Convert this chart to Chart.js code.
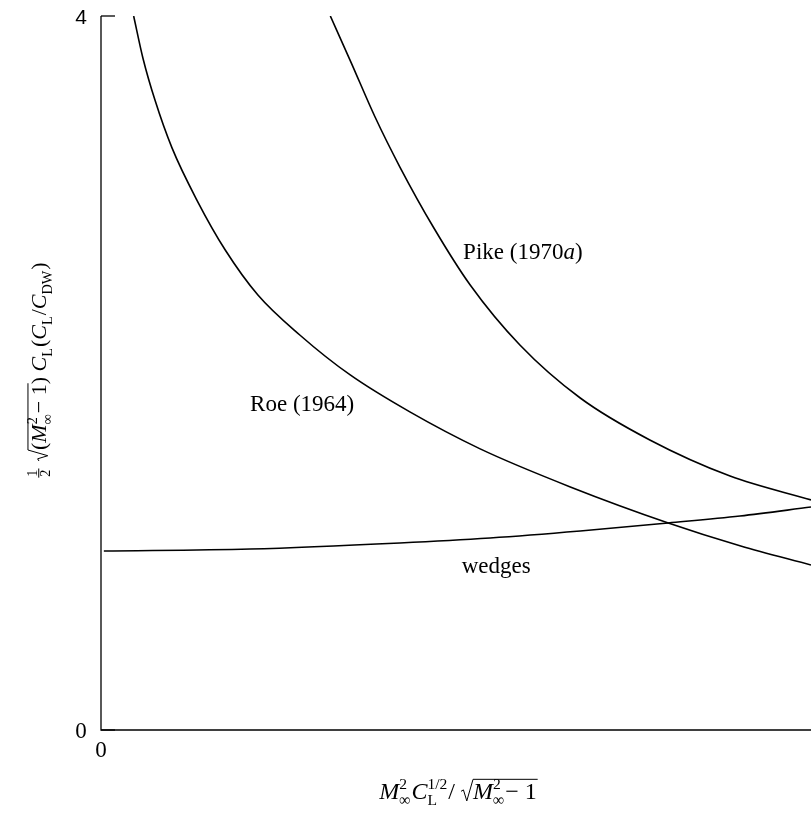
<!DOCTYPE html>
<html lang="en">
<head>
<meta charset="UTF-8">
<title>Wedges, Roe and Pike</title>
<script src="https://cdn.jsdelivr.net/npm/chart.js"></script>
<style>
  html, body { margin: 0; padding: 0; background: #fff; overflow: hidden; }
  #wrap { width: 811px; height: 813px; position: relative; }
</style>
</head>
<body>
<div id="wrap"><canvas id="myChart"></canvas></div>
<script>
// values
const roeX = [0.046, 0.059, 0.076, 0.100, 0.135, 0.175, 0.221, 0.280, 0.351, 0.435, 0.534, 0.661, 0.799, 0.901, 1.000];
const roeY = [4.000, 3.765, 3.529, 3.261, 2.969, 2.689, 2.437, 2.213, 1.989, 1.782, 1.575, 1.362, 1.160, 1.031, 0.924];

const pikeX = [0.323, 0.352, 0.386, 0.421, 0.468, 0.520, 0.590, 0.675, 0.773, 0.886, 1.000];
const pikeY = [4.000, 3.742, 3.434, 3.154, 2.818, 2.493, 2.157, 1.860, 1.625, 1.423, 1.289];

const wedgeX = [0.004, 0.210, 0.421, 0.548, 0.675, 0.799, 0.900, 1.000];
const wedgeY = [1.003, 1.014, 1.048, 1.076, 1.115, 1.160, 1.199, 1.249];

const xTicks = [0, 1];
const yTicks = [0, 4];

// curve labels, placed in data coordinates
const curveLabels = [
    { text: [{ t: 'Pike (1970' }, { t: 'a', i: true }, { t: ')' }], x: 0.510, y: 2.64 },
    { text: [{ t: 'Roe (1964)' }], x: 0.210, y: 1.787 },
    { text: [{ t: 'wedges' }], x: 0.508, y: 0.880 }
];

const SERIF = '"Liberation Serif", "DejaVu Serif", serif';

function toPts(xs, ys) {
    return xs.map((x, i) => ({ x: x, y: ys[i] }));
}

// draws (or just measures) a row of text pieces with sub/superscripts, fractions and a root
function richText(ctx, parts, size, x0, y0, draw) {
    let x = x0;
    let rootX = null;
    const small = size * 0.65;
    const fnt = (s, it) => (it ? 'italic ' : '') + s + 'px ' + SERIF;
    for (const p of parts) {
        if (p.frac) {
            ctx.font = fnt(small);
            const w = Math.max(ctx.measureText(p.frac[0]).width, ctx.measureText(p.frac[1]).width) + 2;
            if (draw) {
                ctx.textAlign = 'center';
                ctx.fillText(p.frac[0], x + w / 2, y0 - size * 0.42);
                ctx.fillText(p.frac[1], x + w / 2, y0 + size * 0.18);
                ctx.textAlign = 'left';
                ctx.beginPath();
                ctx.moveTo(x, y0 - size * 0.33);
                ctx.lineTo(x + w, y0 - size * 0.33);
                ctx.lineWidth = 1;
                ctx.stroke();
            }
            x += w + 2;
        } else if (p.root) {
            const w = size * 0.5;
            if (draw) {
                ctx.beginPath();
                ctx.moveTo(x, y0 - size * 0.32);
                ctx.lineTo(x + size * 0.1, y0 - size * 0.38);
                ctx.lineTo(x + size * 0.24, y0 + size * 0.08);
                ctx.lineTo(x + w, y0 - size * 0.82);
                ctx.lineWidth = 1;
                ctx.stroke();
            }
            x += w;
            rootX = x;
        } else if (p.end) {
            if (draw && rootX !== null) {
                ctx.beginPath();
                ctx.moveTo(rootX, y0 - size * 0.82);
                ctx.lineTo(x + 1, y0 - size * 0.82);
                ctx.lineWidth = 1;
                ctx.stroke();
            }
        } else if (p.sup !== undefined || p.sub !== undefined) {
            ctx.font = fnt(small);
            const ws = p.sup ? ctx.measureText(p.sup).width : 0;
            const wb = p.sub ? ctx.measureText(p.sub).width : 0;
            if (draw) {
                if (p.sup) ctx.fillText(p.sup, x, y0 - size * 0.4);
                if (p.sub) ctx.fillText(p.sub, x, y0 + size * 0.25);
            }
            x += Math.max(ws, wb) + 1;
        } else {
            ctx.font = fnt(size, p.i);
            if (draw) ctx.fillText(p.t, x, y0);
            x += ctx.measureText(p.t).width;
        }
    }
    return x - x0;
}

const xTitle = [
    { t: 'M', i: true }, { sup: '2', sub: '∞' }, { t: 'C', i: true }, { sup: '1/2', sub: 'L' },
    { t: '/ ' }, { root: true }, { t: 'M', i: true }, { sup: '2', sub: '∞' }, { t: '− 1' }, { end: true }
];
const yTitle = [
    { frac: ['1', '2'] }, { t: ' ' }, { root: true }, { t: '(' }, { t: 'M', i: true }, { sup: '2', sub: '∞' },
    { t: '− 1' }, { end: true }, { t: ') ' }, { t: 'C', i: true }, { sub: 'L' }, { t: '(' }, { t: 'C', i: true },
    { sub: 'L' }, { t: '/' }, { t: 'C', i: true }, { sub: 'DW' }, { t: ')' }
];

const axesPlugin = {
    id: 'axesPlugin',
    afterDatasetsDraw(chart) {
        const ctx = chart.ctx;
        const xs = chart.scales.x, ys = chart.scales.y;
        const left = xs.getPixelForValue(0), right = xs.getPixelForValue(1);
        const top = ys.getPixelForValue(4), bottom = ys.getPixelForValue(0);
        ctx.save();
        ctx.strokeStyle = '#000';
        ctx.fillStyle = '#000';
        ctx.textBaseline = 'alphabetic';

        // axis lines
        ctx.lineWidth = 1.3;
        ctx.beginPath();
        ctx.moveTo(left, top);
        ctx.lineTo(left, bottom);
        ctx.lineTo(right, bottom);
        ctx.stroke();
        // inward ticks on the y axis
        yTicks.forEach(v => {
            const py = ys.getPixelForValue(v);
            ctx.beginPath();
            ctx.moveTo(left, py);
            ctx.lineTo(left + 14, py);
            ctx.stroke();
        });

        // tick labels
        ctx.textAlign = 'center';
        yTicks.forEach(v => {
            ctx.font = (v === 4 ? '21px "Liberation Sans", sans-serif' : '23px ' + SERIF);
            ctx.fillText(String(v), left - 20, ys.getPixelForValue(v) + 8);
        });
        ctx.font = '23px ' + SERIF;
        xTicks.forEach(v => {
            ctx.fillText(String(v), xs.getPixelForValue(v) + (v === 1 ? 4 : 0), bottom + 27);
        });

        // curve labels
        ctx.textAlign = 'left';
        curveLabels.forEach(l => {
            richText(ctx, l.text, 23, xs.getPixelForValue(l.x), ys.getPixelForValue(l.y), true);
        });

        // x title
        const xw = richText(ctx, xTitle, 24, 0, 0, false);
        richText(ctx, xTitle, 24, 458 - xw / 2, 799, true);

        // y title, rotated
        const yw = richText(ctx, yTitle, 22, 0, 0, false);
        ctx.translate(46, 370);
        ctx.rotate(-Math.PI / 2);
        richText(ctx, yTitle, 22, -yw / 2, 0, true);
        ctx.restore();
    }
};

const lineStyle = {
    showLine: true,
    borderColor: '#000',
    borderWidth: 1.6,
    pointRadius: 0,
    fill: false,
    cubicInterpolationMode: 'monotone'
};

new Chart(document.getElementById('myChart').getContext('2d'), {
    type: 'scatter',
    data: {
        datasets: [
            { label: 'Roe (1964)', data: toPts(roeX, roeY), ...lineStyle },
            { label: 'Pike (1970a)', data: toPts(pikeX, pikeY), ...lineStyle },
            { label: 'wedges', data: toPts(wedgeX, wedgeY), ...lineStyle }
        ]
    },
    options: {
        responsive: true,
        maintainAspectRatio: false,
        animation: false,
        layout: { padding: { left: 101, right: 0, top: 16, bottom: 83 } },
        plugins: { legend: { display: false }, tooltip: { enabled: false } },
        scales: {
            x: { type: 'linear', min: 0, max: 1, display: false },
            y: { type: 'linear', min: 0, max: 4, display: false }
        }
    },
    plugins: [axesPlugin]
});
</script>
</body>
</html>
